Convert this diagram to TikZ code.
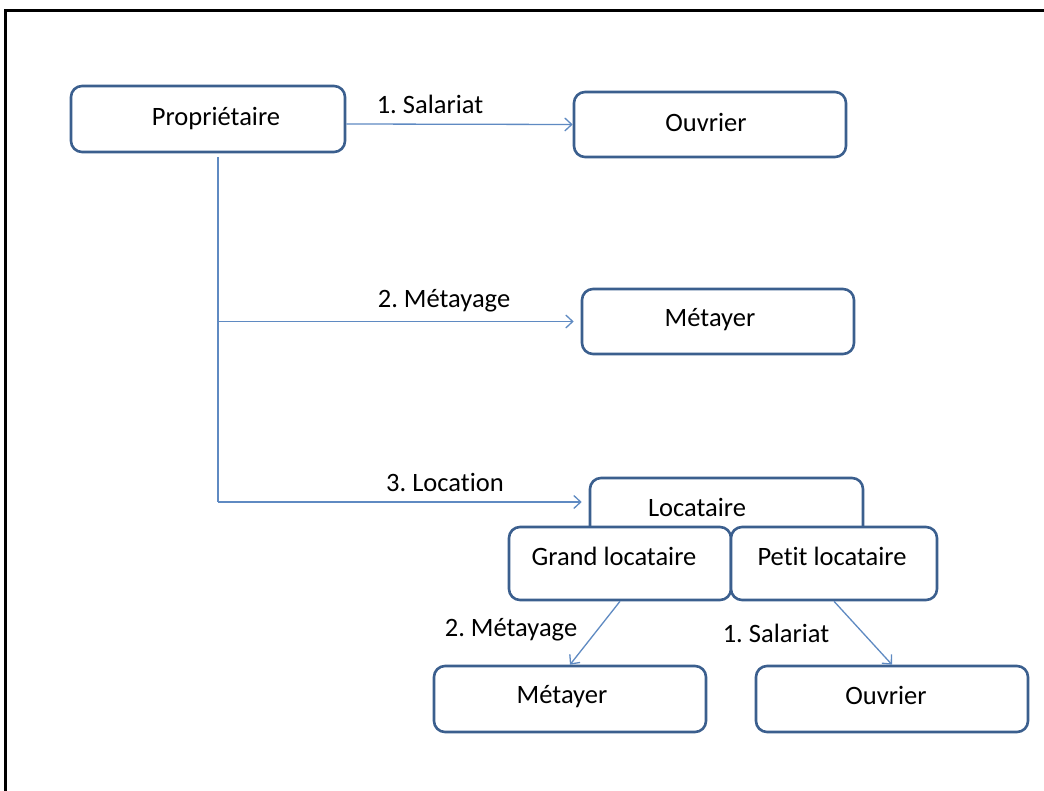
\documentclass[tikz,border=0pt]{standalone}
\usepackage{fontspec}
\setmainfont[Ligatures=NoCommon]{Carlito}
\usetikzlibrary{arrows.meta}
\definecolor{boxline}{HTML}{3B5F8E}
\definecolor{arrline}{HTML}{5F8AC2}
\frenchspacing
\tikzset{
  box/.style={draw=boxline, line width=2.6pt, rounded corners=11pt, fill=white, inner sep=0pt},
  arr/.style={draw=arrline, line width=1.3pt, -{Straight Barb[length=7pt,width=13pt,line width=1.3pt]}},
  link/.style={draw=arrline, line width=1.3pt},
  lab/.style={inner sep=0pt, font=\fontsize{26.5}{30}\selectfont},
}
\begin{document}
\begin{tikzpicture}[x=1pt,y=-1pt]
\useasboundingbox (0,0) rectangle (1044,791);
\fill[white] (0,0) rectangle (1044,791);
% frame
\draw[line width=3pt, black] (1060,11) -- (5,11) -- (5,810);
% top row
\node[box, minimum width=274pt, minimum height=66pt] (prop) at (208,119) {};
\node[lab] (propt) at (216,119) {Propriétaire};
\node[box, minimum width=272pt, minimum height=65pt] (ouv1) at (710,124.5) {};
\node[lab] (ouv1t) at (706,122) {Ouvrier};
\node[box, minimum width=272pt, minimum height=65pt] (met1) at (718,321.5) {};
\node[lab] (met1t) at (710,320) {Métayer};
% locataire group
\node[box, minimum width=273pt, minimum height=67pt] (loc) at (726.5,511.5) {};
\node[lab] (loct) at (697,507) {Locataire};
\node[box, minimum width=222pt, minimum height=73pt] (gl) at (620,563.5) {};
\node[lab] (glt) at (614,556) {Grand locataire};
\node[box, minimum width=206pt, minimum height=73pt] (pl) at (834,563.5) {};
\node[lab] (plt) at (832,556) {Petit locataire};
% bottom row
\node[box, minimum width=272pt, minimum height=66pt] (met2) at (570,699) {};
\node[lab] (met2t) at (562,697) {Métayer};
\node[box, minimum width=272pt, minimum height=66pt] (ouv2) at (892,699) {};
\node[lab] (ouv2t) at (886,695) {Ouvrier};
% connectors
\coordinate (trunk) at (218,157);
\coordinate (b2) at (218,321.5);
\coordinate (b3) at (218,502);
\draw[arr] ([yshift=-5pt]prop.east) -- (ouv1.west);
\draw[link] (trunk) -- (b3);
\draw[arr, shorten >=7pt] (b2) -- (met1.west);
\draw[arr, shorten >=7pt] (b3) -- (b3 -| loc.west);
\draw[arr] (gl.south) -- (met2.north);
\draw[arr] (pl.south) -- (ouv2.north);
% labels
\node[lab] (l1) at (430,104) {1. Salariat};
\node[lab] (l2) at (444,301) {2. Métayage};
\node[lab] (l3) at (445,482) {3. Location};
\node[lab] (l4) at (511,630) {2. Métayage};
\node[lab] (l5) at (776,633) {1. Salariat};
\end{tikzpicture}
\end{document}
